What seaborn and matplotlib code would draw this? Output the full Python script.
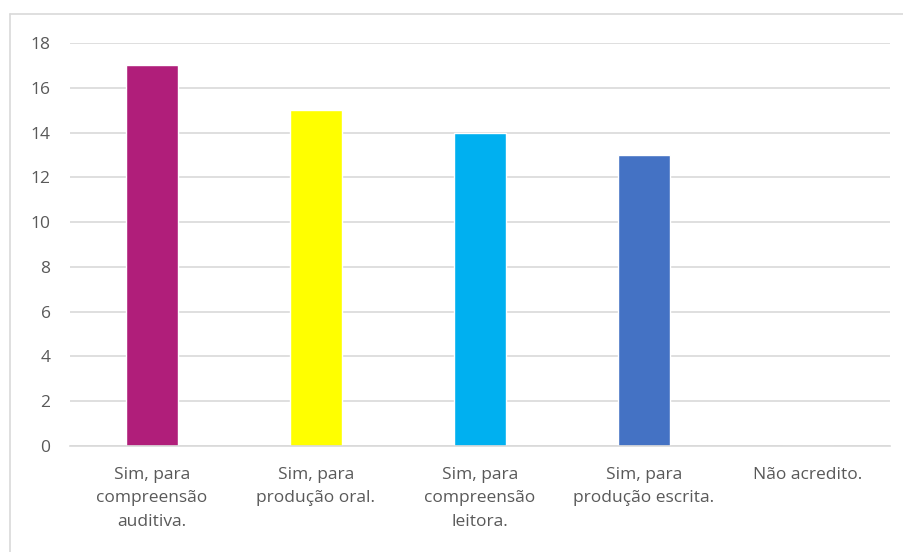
import matplotlib
matplotlib.use("Agg")
import matplotlib.pyplot as plt
import seaborn as sns
import pandas as pd

categories = ["Sim, para\ncompreensão\nauditiva.", "Sim, para\nprodução oral.",
              "Sim, para\ncompreensão\nleitora.", "Sim, para\nprodução escrita.",
              "Não acredito."]
values = [17, 15, 14, 13, 0]
colors = ["#B01E7A", "#FFFF00", "#00B0F0", "#4472C4", "#A5A5A5"]
yticks = [0, 2, 4, 6, 8, 10, 12, 14, 16, 18]

sns.set_style("white")
plt.rcParams["font.family"] = ["Open Sans", "DejaVu Sans"]

df = pd.DataFrame({"cat": categories, "val": values})

fig = plt.figure(figsize=(9.04, 5.52), dpi=100)
ax = fig.add_axes([70 / 904, 1 - 446 / 552, 820 / 904, 403 / 552])

sns.barplot(data=df, x="cat", y="val", hue="cat", palette=colors,
            legend=False, width=0.315, ax=ax, saturation=1)

ax.set_ylim(0, 18)
ax.set_yticks(yticks)
ax.set_xlim(-0.5, 4.5)
ax.yaxis.grid(True, color="#D9D9D9", linewidth=1.2)
ax.set_axisbelow(True)
for s in ["top", "right", "left"]:
    ax.spines[s].set_visible(False)
ax.spines["bottom"].set_color("#D9D9D9")
ax.spines["bottom"].set_linewidth(1.2)
ax.set_xlabel("")
ax.set_ylabel("")
ax.tick_params(axis="both", length=0, colors="#595959", labelsize=12.5)
ax.tick_params(axis="y", pad=14)
ax.tick_params(axis="x", pad=15)
for lbl in ax.get_xticklabels():
    lbl.set_linespacing(1.62)
    lbl.set_verticalalignment("top")

# outer chart border
fig.add_artist(plt.Line2D([10 / 904, 10 / 904], [0, 1 - 14 / 552],
                          color="#D9D9D9", linewidth=1.2))
fig.add_artist(plt.Line2D([10 / 904, 1], [1 - 14 / 552, 1 - 14 / 552],
                          color="#D9D9D9", linewidth=1.2))

fig.savefig("out.png", dpi=100, facecolor="white")
